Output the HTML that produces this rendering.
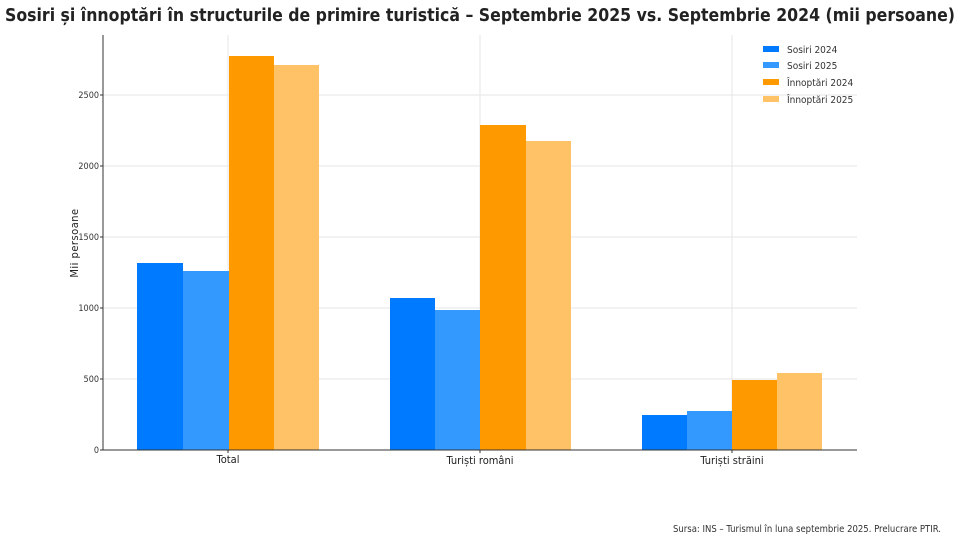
<!DOCTYPE html>
<html><head><meta charset="utf-8"><style>
body{margin:0;background:#fff;}
svg{display:block;}
text{font-family:"DejaVu Sans Condensed","DejaVu Sans","Liberation Sans",sans-serif;}
</style></head><body>
<svg width="960" height="540" xmlns="http://www.w3.org/2000/svg">
<rect width="960" height="540" fill="#fff"/>
<text x="480" y="21" text-anchor="middle" font-size="18" font-weight="bold" fill="#222" textLength="950" lengthAdjust="spacingAndGlyphs">Sosiri și înnoptări în structurile de primire turistică – Septembrie 2025 vs. Septembrie 2024 (mii persoane)</text>
<g stroke="#e6e6e6" stroke-width="1">
<line x1="103" x2="857" y1="379" y2="379"/><line x1="103" x2="857" y1="308" y2="308"/>
<line x1="103" x2="857" y1="237" y2="237"/><line x1="103" x2="857" y1="166" y2="166"/>
<line x1="103" x2="857" y1="95" y2="95"/>
<line x1="228" x2="228" y1="35" y2="450"/><line x1="480" x2="480" y1="35" y2="450"/><line x1="732" x2="732" y1="35" y2="450"/>
</g>
<g>
<rect x="137" y="263" width="46" height="187" fill="#007bff"/>
<rect x="183" y="271" width="46" height="179" fill="#3399ff"/>
<rect x="229" y="56" width="45" height="394" fill="#ff9900"/>
<rect x="274" y="65" width="45" height="385" fill="#ffc266"/>
<rect x="390" y="298" width="45" height="152" fill="#007bff"/>
<rect x="435" y="310" width="45" height="140" fill="#3399ff"/>
<rect x="480" y="125" width="46" height="325" fill="#ff9900"/>
<rect x="526" y="141" width="45" height="309" fill="#ffc266"/>
<rect x="642" y="415" width="45" height="35" fill="#007bff"/>
<rect x="687" y="411" width="45" height="39" fill="#3399ff"/>
<rect x="732" y="380" width="45" height="70" fill="#ff9900"/>
<rect x="777" y="373" width="45" height="77" fill="#ffc266"/>
</g>
<line x1="103" x2="103" y1="35" y2="450" stroke="#333"/>
<line x1="103" x2="857" y1="450" y2="450" stroke="#333"/>
<g font-size="9" fill="#333" text-anchor="end">
<text x="99" y="453">0</text><text x="99" y="382">500</text><text x="99" y="311">1000</text>
<text x="99" y="240">1500</text><text x="99" y="169">2000</text><text x="99" y="98">2500</text>
</g>
<g stroke="#333"><line x1="100" x2="103" y1="450" y2="450"/><line x1="100" x2="103" y1="379" y2="379"/><line x1="100" x2="103" y1="308" y2="308"/><line x1="100" x2="103" y1="237" y2="237"/><line x1="100" x2="103" y1="166" y2="166"/><line x1="100" x2="103" y1="95" y2="95"/>
<line x1="228" x2="228" y1="450" y2="453"/><line x1="480" x2="480" y1="450" y2="453"/><line x1="732" x2="732" y1="450" y2="453"/></g>
<g font-size="11" fill="#222" text-anchor="middle">
<text x="228" y="463">Total</text><text x="480" y="464">Turiști români</text><text x="732" y="464">Turiști străini</text>
</g>
<text transform="translate(78,243) rotate(-90)" font-size="11" fill="#222" text-anchor="middle" letter-spacing="0.5">Mii persoane</text>
<g font-size="10" fill="#333">
<rect x="763" y="46" width="16" height="6" fill="#007bff"/><text x="787" y="53">Sosiri 2024</text>
<rect x="763" y="62" width="16" height="6" fill="#3399ff"/><text x="787" y="69">Sosiri 2025</text>
<rect x="763" y="79" width="16" height="6" fill="#ff9900"/><text x="787" y="86">Înnoptări 2024</text>
<rect x="763" y="96" width="16" height="6" fill="#ffc266"/><text x="787" y="103">Înnoptări 2025</text>
</g>
<text x="673" y="532" font-size="10" fill="#333" textLength="268" lengthAdjust="spacingAndGlyphs">Sursa: INS – Turismul în luna septembrie 2025. Prelucrare PTIR.</text>
</svg>
</body></html>
